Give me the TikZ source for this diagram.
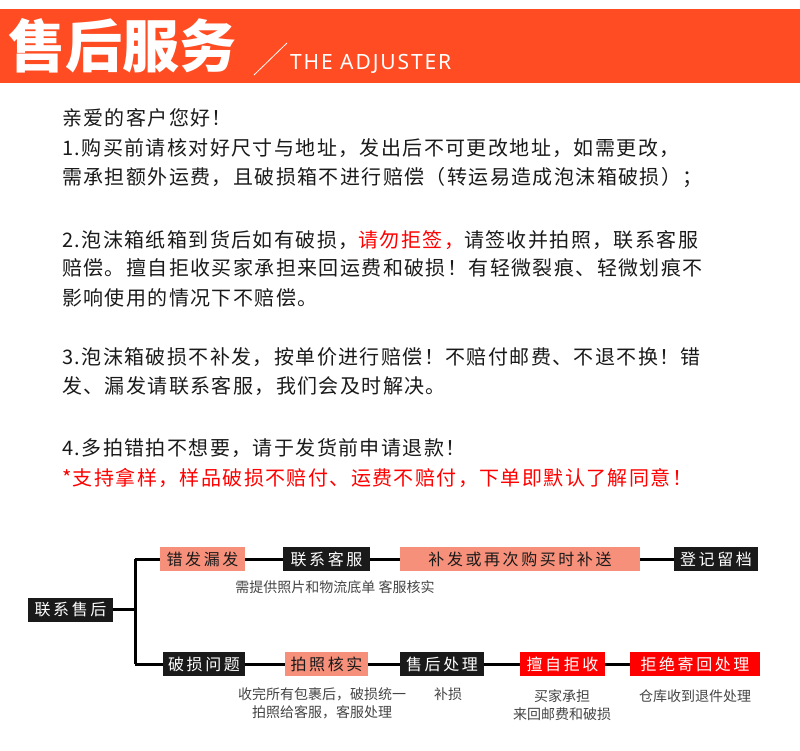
\documentclass[tikz,border=0pt]{standalone}
\usepackage{fontspec}
\setmainfont{Noto Sans CJK SC}
\newfontfamily\latinf[LetterSpace=9]{Noto Sans}
\newfontfamily\bodyf[LetterSpace=7]{Noto Sans CJK SC}
\newfontfamily\boxf[LetterSpace=16]{Noto Sans CJK SC}
\definecolor{hdr}{HTML}{FF4C22}
\definecolor{salmon}{HTML}{F6907A}
\definecolor{boxblk}{HTML}{1A1A1A}
\definecolor{redbx}{HTML}{FF0000}
\definecolor{txt}{HTML}{1A1A1A}
\definecolor{sub}{HTML}{444444}
\begin{document}
\begin{tikzpicture}[x=1pt,y=-1pt,
 body/.style={anchor=west,inner sep=0,font=\bodyf\fontsize{20}{20}\selectfont,text=txt},
 bx/.style={minimum height=24pt,inner sep=0,font=\boxf\fontsize{16}{16}\selectfont},
 sbox/.style={bx,fill=salmon,text=txt},
 kbox/.style={bx,fill=boxblk,text=white},
 rbox/.style={bx,fill=redbx,text=white},
 subl/.style={font=\fontsize{14}{18}\selectfont,text=sub,align=center,inner sep=0},
 ln/.style={line width=3pt,black}]
\useasboundingbox (0,0) rectangle (800,750);
\fill[hdr] (0,9) rectangle (800,83);
\node[anchor=west,text=white,inner sep=0,font=\fontsize{57}{57}\selectfont\bfseries] (t1) at (8,46) {售后服务};
\draw[white,line width=0.8pt] (254,75) -- (287,43);
\node[anchor=west,text=white,inner sep=0,font=\latinf\fontsize{21}{21}\selectfont] (t2) at (290,64) {THE ADJUSTER};

\node[body] (l1) at (62,118) {亲爱的客户您好！};
\node[body] (l2) at (62,148) {1.购买前请核对好尺寸与地址，发出后不可更改地址，如需更改，};
\node[body] (l3) at (62,178) {需承担额外运费，且破损箱不进行赔偿（转运易造成泡沫箱破损）；};
\node[body] (l4) at (62,240) {2.泡沫箱纸箱到货后如有破损，\textcolor{redbx}{请勿拒签，}请签收并拍照，联系客服};
\node[body] (l5) at (62,268) {赔偿。擅自拒收买家承担来回运费和破损！有轻微裂痕、轻微划痕不};
\node[body] (l6) at (62,298) {影响使用的情况下不赔偿。};
\node[body] (l7) at (62,357) {3.泡沫箱破损不补发，按单价进行赔偿！不赔付邮费、不退不换！错};
\node[body] (l8) at (62,386) {发、漏发请联系客服，我们会及时解决。};
\node[body] (l9) at (62,448) {4.多拍错拍不想要，请于发货前申请退款！};
\node[body,text=redbx] (l10) at (62,478) {*支持拿样，样品破损不赔付、运费不赔付，下单即默认了解同意！};

\node[kbox,minimum width=85pt] (root) at (70.5,609.5) {联系售后};
\coordinate (j) at (135,609.5);
\coordinate (jt) at (135,559);
\coordinate (jb) at (135,664);
\node[sbox,minimum width=85pt] (a1) at (202.5,559) {错发漏发};
\node[kbox,minimum width=87pt] (a2) at (326.5,559) {联系客服};
\node[sbox,minimum width=240pt] (a3) at (520,559) {补发或再次购买时补送};
\node[kbox,minimum width=84pt] (a4) at (716,559) {登记留档};
\node[kbox,minimum width=82pt] (b1) at (204,664) {破损问题};
\node[sbox,minimum width=83pt] (b2) at (326.5,664) {拍照核实};
\node[kbox,minimum width=84pt] (b3) at (442,664) {售后处理};
\node[rbox,minimum width=85pt] (b4) at (562.5,664) {擅自拒收};
\node[rbox,minimum width=130pt] (b5) at (695,664) {拒绝寄回处理};
\draw[ln] (root) -- (j);
\draw[ln] (jt) -- (jb);
\draw[ln] (jt) -- (a1) -- (a2) -- (a3) -- (a4);
\draw[ln] (jb) -- (b1) -- (b2) -- (b3) -- (b4) -- (b5);
\node[subl] (s1) at (335,587) {需提供照片和物流底单 客服核实};
\node[subl] (s2) at (322,703) {收完所有包裹后，破损统一\\拍照给客服，客服处理};
\node[subl] (s3) at (448,694) {补损};
\node[subl] (s4) at (562,705) {买家承担\\来回邮费和破损};
\node[subl] (s5) at (695,696) {仓库收到退件处理};
\end{tikzpicture}
\end{document}
